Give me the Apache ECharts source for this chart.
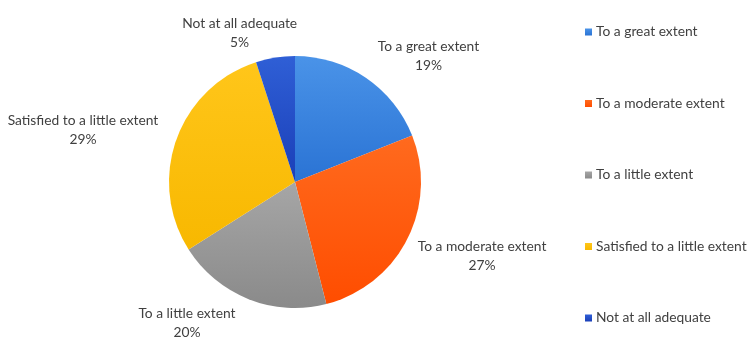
<!DOCTYPE html>
<html lang="en">
<head>
<meta charset="UTF-8" />
<title>Extent pie</title>
<script src="https://cdn.jsdelivr.net/npm/echarts@6/dist/echarts.min.js"></script>
<style>
  html, body { margin: 0; padding: 0; background: #fff; }
  #main { width: 750px; height: 337px; }
</style>
</head>
<body>
<div id="main"></div>
<script>
// data
var categories = ['To a great extent', 'To a moderate extent', 'To a little extent', 'Satisfied to a little extent', 'Not at all adequate'];
var shares = [19, 27, 20, 29, 5];
// slice colours: light -> dark
var lightColors = ['#4a93e8', '#ff6a1e', '#a6a6a6', '#ffc61a', '#2f5fd6'];
var darkColors = ['#2a73d4', '#ff4d00', '#8a8a8a', '#f8b800', '#1a3fb8'];
// nudges so labels sit where Excel's best-fit put them
var labelShiftX = [-1, -7, -3, 0, 29];
var labelShiftY = [-10, 10, 11, -5, -11];

var myChart = echarts.init(document.getElementById('main'));

var pieData = categories.map(function (name, i) {
  return {
    name: name,
    value: shares[i],
    itemStyle: {
      color: new echarts.graphic.LinearGradient(0, 0, 0, 1, [
        { offset: 0, color: lightColors[i] },
        { offset: 1, color: darkColors[i] }
      ])
    }
  };
});

myChart.setOption({
  color: darkColors,
  textStyle: { fontFamily: 'Lato, "Open Sans", sans-serif' },
  legend: {
    orient: 'vertical',
    left: 580,
    top: 19,
    itemWidth: 7,
    itemHeight: 7,
    itemGap: 55.5,
    icon: 'rect',
    textStyle: { fontSize: 13.8, color: '#404040', lineHeight: 16, padding: [0, 0, 0, -1] },
    data: categories
  },
  series: [{
    type: 'pie',
    center: [295, 182],
    radius: 126,
    startAngle: 90,
    clockwise: true,
    animation: false,
    label: {
      show: true,
      position: 'outside',
      formatter: '{b}\n{d}%',
      fontSize: 13.8,
      lineHeight: 19,
      color: '#404040',
      overflow: 'none'
    },
    labelLine: { show: false, length: 14, length2: 0 },
    // centre each label on its default spot, then nudge
    labelLayout: function (p) {
      var i = p.dataIndex;
      return {
        x: p.labelRect.x + p.labelRect.width / 2 + labelShiftX[i],
        y: p.labelRect.y + p.labelRect.height / 2 + labelShiftY[i],
        align: 'center',
        verticalAlign: 'middle'
      };
    },
    emphasis: { disabled: true },
    data: pieData
  }]
});
</script>
</body>
</html>
